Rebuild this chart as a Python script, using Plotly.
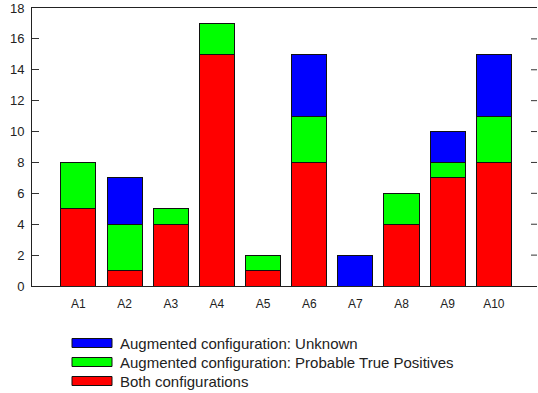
import plotly.graph_objects as go

categories = ["A1", "A2", "A3", "A4", "A5", "A6", "A7", "A8", "A9", "A10"]
both = [5, 1, 4, 15, 1, 8, 0, 4, 7, 8]
probable = [3, 3, 1, 2, 1, 3, 0, 2, 1, 3]
unknown = [0, 3, 0, 0, 0, 4, 2, 0, 2, 4]
y_ticks = [0, 2, 4, 6, 8, 10, 12, 14, 16, 18]

series_names = [
    "Both configurations",
    "Augmented configuration: Probable True Positives",
    "Augmented configuration: Unknown",
]
series_colors = ["#ff0000", "#00ff00", "#0000ff"]
series_values = [both, probable, unknown]

W, H = 538, 393
ML, MR, MT, MB = 32, 1, 8, 107
PW, PH = W - ML - MR, H - MT - MB

fig = go.Figure()
xs = list(range(len(categories)))
for name, col, vals in zip(series_names, series_colors, series_values):
    fig.add_trace(go.Bar(
        x=xs, y=[v if v else None for v in vals], name=name,
        marker=dict(color=col, line=dict(color="#111111", width=1)),
        width=0.76, showlegend=False,
    ))

fig.update_layout(
    width=W, height=H,
    margin=dict(l=ML, r=MR, t=MT, b=MB, pad=0),
    barmode="stack",
    plot_bgcolor="white", paper_bgcolor="white",
    font=dict(family="Liberation Sans, Arial, sans-serif", color="#222222"),
)
fig.update_xaxes(
    range=[-1.006, 9.935], tickmode="array", tickvals=xs, ticktext=categories,
    showgrid=False, zeroline=False, showline=True, linecolor="#222222",
    linewidth=1, mirror=True, ticks="", tickfont=dict(size=12),
    ticklabelstandoff=7,
)
fig.update_yaxes(range=[0, 18], tickmode="array", tickvals=y_ticks,
    showgrid=False, zeroline=False, showline=True, linecolor="#222222",
    linewidth=1, mirror=False, ticks="inside", ticklen=7, tickcolor="#333333",
    tickfont=dict(size=13), ticklabelstandoff=4)

# Right-side inward tick marks (mirrored y ticks, no right border line)
for v in y_ticks[1:-1]:
    fig.add_shape(type="line", xref="paper", yref="y",
                  x0=1 - 6 / PW, x1=1, y0=v, y1=v,
                  line=dict(color="#333333", width=1))

# Legend drawn manually (wide swatches like the reference)
legend_order = [2, 1, 0]
row_y = [343, 362, 381]
for ry, idx in zip(row_y, legend_order):
    fig.add_shape(type="rect", xref="paper", yref="paper",
                  x0=(72 - ML) / PW, x1=(112 - ML) / PW,
                  y0=(H - MB - (ry + 4.5)) / PH,
                  y1=(H - MB - (ry - 4.5)) / PH,
                  fillcolor=series_colors[idx], line=dict(color="#111111", width=1))
    fig.add_annotation(xref="paper", yref="paper",
                       x=(118 - ML) / PW,
                       y=(H - MB - ry) / PH,
                       text=series_names[idx], showarrow=False,
                       xanchor="left", yanchor="middle",
                       font=dict(size=15, color="#222222"))

fig.write_html("out.html", config={"displayModeBar": False},
               post_script="document.body.style.margin='0px';")
